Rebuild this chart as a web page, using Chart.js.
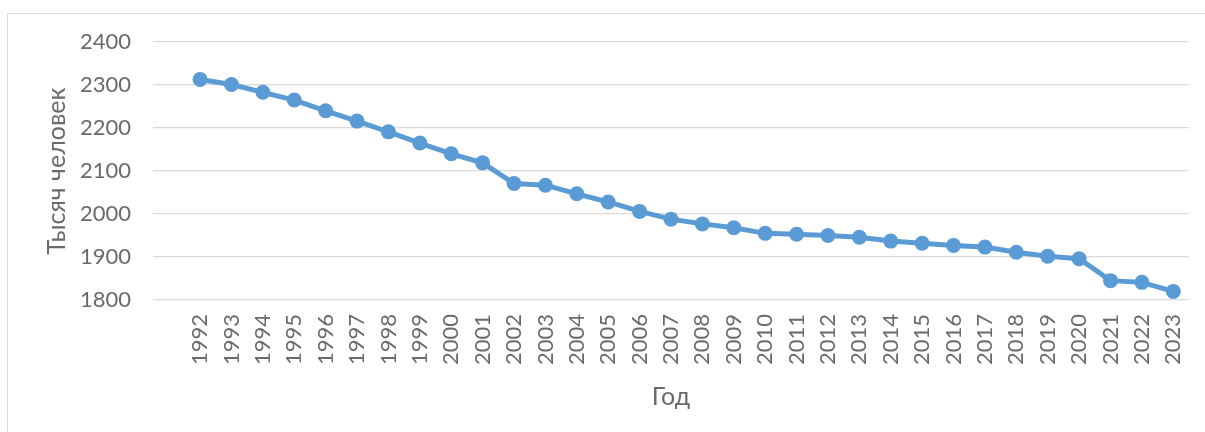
<!DOCTYPE html>
<html>
<head>
<meta charset="utf-8">
<script src="https://cdn.jsdelivr.net/npm/chart.js@4"></script>
<style>
  html, body { margin: 0; padding: 0; background: #fff; }
  #wrap { width: 1205px; height: 432px; }
</style>
</head>
<body>
<div id="wrap"><canvas id="myChart" width="1205" height="432"></canvas></div>
<script>
const years = ['1992', '1993', '1994', '1995', '1996', '1997', '1998', '1999', '2000', '2001',
  '2002', '2003', '2004', '2005', '2006', '2007', '2008', '2009', '2010', '2011',
  '2012', '2013', '2014', '2015', '2016', '2017', '2018', '2019', '2020', '2021',
  '2022', '2023'];
const population = [2313, 2301, 2283, 2265, 2240, 2216, 2191, 2165, 2140, 2119,
  2071, 2067, 2047, 2028, 2006, 1988, 1977, 1968, 1955, 1953,
  1950, 1946, 1937, 1932, 1927, 1923, 1911, 1902, 1896, 1845,
  1841, 1820];
const yTicks = [1800, 1900, 2000, 2100, 2200, 2300, 2400];

const textColor = '#6a6a6a';
const font = "'Lato', 'Open Sans', sans-serif";

// the original chart has an empty category before 1992
const labels = [''].concat(years);
const values = [null].concat(population);

// light frame around the chart, like the Excel chart area
const frame = {
  id: 'frame',
  beforeDraw(chart) {
    const ctx = chart.ctx;
    ctx.save();
    ctx.strokeStyle = '#d9d9d9';
    ctx.lineWidth = 1;
    ctx.strokeRect(7.5, 13.5, 1300, 500);
    ctx.restore();
  }
};

new Chart(document.getElementById('myChart'), {
  type: 'line',
  data: {
    labels: labels,
    datasets: [{
      label: 'Тысяч человек',
      data: values,
      borderColor: '#5b9bd5',
      backgroundColor: '#5b9bd5',
      borderWidth: 5,
      pointRadius: 7.5,
      pointHoverRadius: 7.5,
      pointBorderWidth: 0,
      tension: 0
    }]
  },
  options: {
    responsive: false,
    animation: false,
    layout: { padding: { top: 42, right: 16, left: 0, bottom: 0 } },
    plugins: { legend: { display: false }, tooltip: { enabled: false } },
    scales: {
      x: {
        offset: true,
        grid: { display: false, drawTicks: false },
        border: { display: false },
        ticks: {
          autoSkip: false,
          minRotation: 90,
          maxRotation: 90,
          padding: 14,
          color: textColor,
          font: { family: font, size: 22 }
        },
        title: {
          display: true,
          text: 'Год',
          color: textColor,
          font: { family: font, size: 25 },
          padding: { top: 0, bottom: 20 }
        },
        afterFit(scale) {
          scale.height = 132;
          scale.paddingLeft = 0;
          scale.paddingRight = 0;
        }
      },
      y: {
        min: 1800,
        max: 2400,
        afterBuildTicks(scale) { scale.ticks = yTicks.map(v => ({ value: v })); },
        grid: { color: '#d9d9d9', lineWidth: 1.3, drawTicks: false },
        border: { display: false },
        ticks: {
          padding: 22,
          color: textColor,
          font: { family: font, size: 22 },
          callback: (v) => String(v)
        },
        title: {
          display: true,
          text: 'Тысяч человек',
          color: textColor,
          font: { family: font, size: 25 },
          padding: { top: 42, bottom: 0 }
        },
        afterFit(scale) { scale.width = 153; }
      }
    }
  },
  plugins: [frame]
});
</script>
</body>
</html>
